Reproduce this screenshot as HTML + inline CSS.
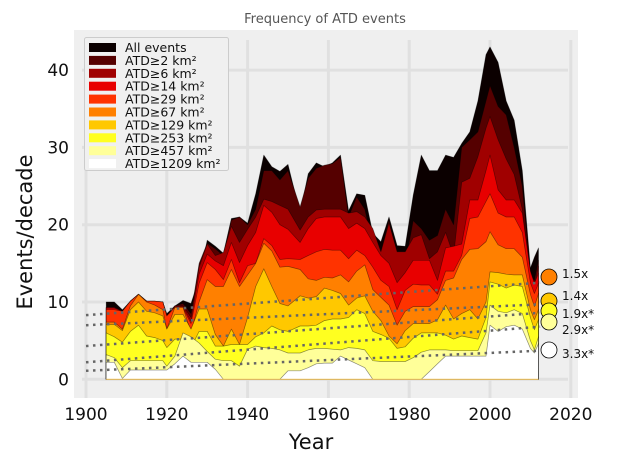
<!DOCTYPE html>
<html><head><meta charset="utf-8"><style>
body{margin:0;background:#fff;}
svg{display:block;font-family:"DejaVu Sans","Liberation Sans",sans-serif;}
</style></head><body>
<svg id="chart" width="624" height="462" viewBox="0 0 624 462">
<rect x="74" y="30" width="504" height="368" fill="#efefef"/>
<g id="grid"></g>
<g id="areas"></g>
<g id="trends"></g>
<g id="markers"></g>
<g id="axes"></g>
<text x="325" y="23" text-anchor="middle" font-size="13" fill="#555">Frequency of ATD events</text>
<text x="311" y="449" text-anchor="middle" font-size="21" fill="#111">Year</text>
<text transform="translate(32,232) rotate(-90)" text-anchor="middle" font-size="21" fill="#111">Events/decade</text>
<g id="legend"></g>
</svg>
<script>
const years=[1905,1907,1909,1911,1913,1915,1917,1919,1920,1922,1924,1926,1928,1930,1932,1934,1936,1938,1940,1942,1944,1946,1948,1950,1953,1955,1957,1959,1961,1963,1965,1967,1969,1971,1973,1975,1977,1979,1981,1983,1985,1987,1989,1991,1993,1995,1997,1999,2000,2002,2004,2006,2008,2010,2011,2012];
const allEvents=[10,10,9,10.1,11,10.1,10,10,8.5,9.5,10.2,9.8,13,18,17.2,16.3,20.8,21,20.2,24,29,27.5,26.9,27.8,21.5,26.6,28,27.5,28,29,21.8,24,23.8,18.9,17.8,21,17.3,17.2,23.8,29,27,27,29,28.7,30.5,32,36,42,43,41,36,33.5,27,14.4,15.8,17];
const atd2=[9.3,9.3,8.8,10.1,11,10.1,10.1,10,8.2,9.5,9.8,8.5,15,17.6,16.9,16,20.6,21,20,22,27,27,25.8,27,22.3,26,27.3,27.7,27.9,28.7,21,23.6,22,17.4,16.5,20.6,15.4,15,20.5,19.5,18,18.6,22,20,30,31,32,36,38,35.3,34.2,30,25,13.5,12.8,15.4];
const atd6=[9.3,9.3,8.8,10.1,11,10.1,10.1,10,8.2,9.5,9.5,8,14.5,17.5,16,16.4,19.8,17.7,19.4,21,23.3,23,22.5,22,19.3,21,21.9,22,22,22,21.5,21.7,21,19.5,16.5,20.2,16.5,16.5,18.3,18.7,15.6,16.5,19,16,25.5,26,28.8,32.5,34,31,28.5,26.5,22,13,12,14.6];
const atd14=[9.2,9.2,8.8,10.1,11,10.1,10.1,10,8.2,9.4,9.4,7.5,13.6,16.2,15.3,14.7,17.7,15.1,17.3,19,22.5,21.6,20,19.4,17.7,19.5,20.8,21,21,21,19.5,20.2,19.5,17.7,16,15,12.5,13.8,15.4,15.4,15.4,12.8,17,17.2,17.5,23.2,23.2,27,29,24.5,23.2,23.2,21.5,14,12.4,13.7];
const atd29=[9,9,8.8,10.1,11,10.1,10.1,10,8.2,9.3,9.2,7.2,12.4,15.1,14.2,12.9,15.5,12.5,14.7,15,18.2,17.3,15.5,15.6,15.5,16,16.5,16.8,16.7,16.7,15.6,16.7,16,14.5,12.8,12,9,11.5,12.3,12.2,12.2,11,14,14,16,20.8,21,23,24,21.5,21,21,19,12.5,11.1,12.4];
const atd67=[7.4,7.4,6.5,9.5,11,10,9.6,9,6.5,9.3,9.3,6,10,12.9,12,12,14.2,12,13.5,15,17.6,16.6,14.5,14.6,14.2,13,12.8,13.2,13.1,13.5,12.6,14,14.8,11.6,10.6,9.6,7,8.8,9.4,9.4,9.4,10.3,12.8,13.1,15.5,16.8,16.9,17.8,19.1,17.4,16.9,16.9,15.8,11,9.4,11.1];
const atd129=[7.1,7.1,6.3,9,10,8.8,8.6,8.2,6.5,8.4,8.4,6.5,9.1,9.1,5.8,4.3,6.5,4.5,8,12,14.3,12,9.8,9.5,10.8,10.5,10.7,11.8,11.5,11.1,9.6,10.5,10.8,8.8,7.6,5.6,4.6,6.3,7.2,7.2,7.2,7.7,9.6,7.8,8.5,9,7.8,10,13.9,13.8,13.6,13.5,13.5,9,7.7,9];
const atd253=[6,5.5,4.8,6.2,7,5.6,5.4,5,4.1,5.2,5.2,4.1,6.2,6.2,4.3,4.3,4.5,4.5,4.5,5.5,6,6.9,6.4,6.2,6.9,6.9,7,7.6,7.8,7.8,8,9,8.5,6.2,5.8,5.3,4,4.2,5.3,6,6,6,5.7,5.2,5.6,5.4,5.2,8,12.6,12.3,11.8,12.2,12,8,6.4,7.7];
const atd457=[3.2,2.8,1.5,2.4,2.4,2.4,2.4,2.4,1.7,3,6,5.5,4.7,3.6,2.6,2.4,2.4,1.7,3.9,4.3,4.1,4,3.8,3.4,3.4,3.8,4,4,3.9,3.8,4.1,4,3.8,2.4,2.3,2.3,2.3,2.3,2.8,3.5,3.8,3.8,3.8,3.7,3.7,3.7,3.7,6,9.6,8.8,8.6,9,8.5,5,3.8,5.5];
const atd1209=[2.2,2.2,0.1,1.2,1.2,1.2,1.2,1.2,1.2,2,3,2.2,2.2,2.2,1.3,0,0,0,0,0,0,0,0,1.1,1.1,1.5,2,2.1,2.1,3,2.5,2,1.5,0,0,0,0,0,0,0,1,2,3,3,3,3,3,3,7,6.2,6.8,7,6.5,4,3.4,4.6];
const seriesLabels=["All events","ATD≥2 km²","ATD≥6 km²","ATD≥14 km²","ATD≥29 km²","ATD≥67 km²","ATD≥129 km²","ATD≥253 km²","ATD≥457 km²","ATD≥1209 km²"];
const xTicks=[1900,1920,1940,1960,1980,2000,2020];
const yTicks=[0,10,20,30,40];
const trendStart=[8.3,7.0,4.3,2.2,1.1];
const trendEnd=[12.5,9.7,8.6,6.8,3.7];
const trendLabels=["1.5x","1.4x","1.9x*","2.9x*","3.3x*"];

const colors=["#0b0000","#550000","#a00000","#e80000","#ff3300","#ff8000","#ffc800","#ffff20","#ffff99","#ffffff"];
const series=[allEvents,atd2,atd6,atd14,atd29,atd67,atd129,atd253,atd457,atd1209];
const NS="http://www.w3.org/2000/svg";
const X=y=>86+(y-1900)*4.04;
const Y=v=>379.3-v*7.73;
function mk(tag,attrs,parent){const e=document.createElementNS(NS,tag);for(const k in attrs)e.setAttribute(k,attrs[k]);parent.appendChild(e);return e;}
const grid=document.getElementById('grid'),axes=document.getElementById('axes');
xTicks.forEach(t=>{
  const l=mk('line',{x1:X(t),x2:X(t),y1:40,y2:398,stroke:'#e0e0e0','stroke-width':3},grid);
  
  
  const tx=mk('text',{x:X(t),y:420,'text-anchor':'middle','font-size':17,fill:'#111'},axes);
  tx.textContent=t;
  
  
});
yTicks.forEach(t=>{
  const l=mk('line',{x1:82,x2:568,y1:Y(t),y2:Y(t),stroke:'#e0e0e0','stroke-width':3},grid);
  
  
  const tx=mk('text',{x:69,y:Y(t)+6,'text-anchor':'end','font-size':17,fill:'#111'},axes);
  tx.textContent=t;
  
  
});
const areas=document.getElementById('areas');
series.forEach((s,i)=>{
  let d='M'+X(years[0])+','+Y(0);
  years.forEach((yr,j)=>{d+=' L'+X(yr).toFixed(1)+','+Y(s[j]).toFixed(1);});
  d+=' L'+X(years[years.length-1])+','+Y(0)+' Z';
  const p=mk('path',{d:d,fill:colors[i],stroke:'rgba(0,0,0,0.45)','stroke-width':0.7,'stroke-linejoin':'round'},areas);
  
  
});
const base=mk('line',{x1:X(years[0]),x2:X(years[years.length-1]),y1:Y(0),y2:Y(0),stroke:'#f5c96a','stroke-width':1.2},areas);


const trends=document.getElementById('trends'),markers=document.getElementById('markers');
const mColors=["#ff8000","#ffc800","#ffff20","#ffff99","#ffffff"];
const mY=[277,301,311,322,350];
const lY=[278,300,318,334,358];
trendStart.forEach((v,i)=>{
  const l=mk('line',{x1:X(1900),y1:Y(v),x2:X(2012.4),y2:Y(trendEnd[i]),stroke:'#666','stroke-width':2.5,'stroke-dasharray':'2.5,4.5'},trends);
  
  
  const c=mk('circle',{cx:549,cy:mY[i],r:8,fill:mColors[i],stroke:'#000','stroke-width':0.8},markers);
  
  
  const t=mk('text',{x:562,y:lY[i],'font-size':12,fill:'#111'},markers);
  t.textContent=trendLabels[i];
  
  
});
const lg=document.getElementById('legend');
const box=mk('rect',{x:84.5,y:37.5,width:144,height:133,rx:2,fill:'#f0f0f0',stroke:'#ccc','stroke-width':1},lg);


seriesLabels.forEach((lab,i)=>{
  const yy=43+i*12.9;
  const r=mk('rect',{x:89,y:yy,width:27,height:9,fill:colors[i]},lg);
  
  
  const t=mk('text',{x:125,y:yy+9,'font-size':12.5,fill:'#111'},lg);
  t.textContent=lab;
  
  
});
</script>
</body></html>
